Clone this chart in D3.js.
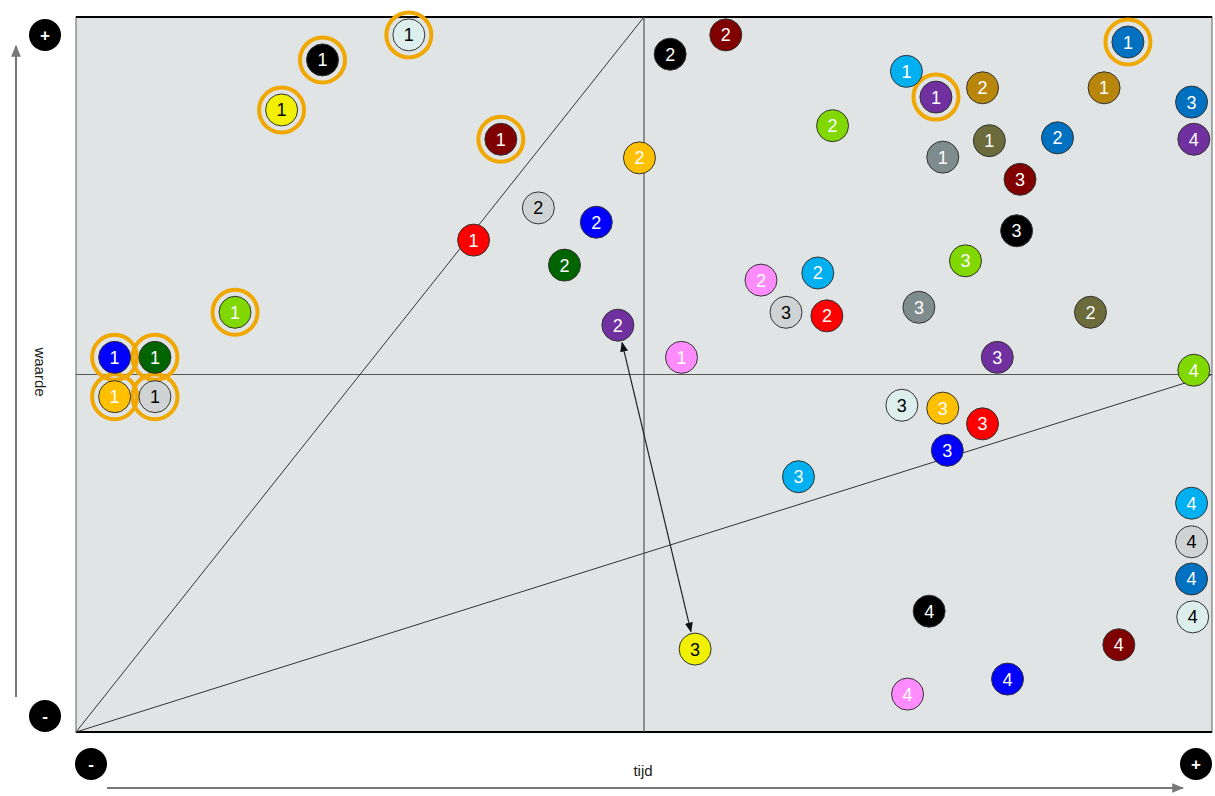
<!DOCTYPE html>
<html>
<head>
<meta charset="utf-8">
<script src="https://cdn.jsdelivr.net/npm/d3@7"></script>
<style>
  body { margin: 0; background: #fff; }
  svg { display: block; font-family: Arial, "Liberation Sans", sans-serif; }
</style>
</head>
<body>
<svg id="chart" width="1215" height="796"></svg>
<script>
// data: one entry per bubble (x = tijd, y = waarde, both 0..100)
const xs = [3.4, 6.95, 3.4, 6.95, 14.0, 18.1, 21.7, 29.3, 37.4, 35.0,
            40.7, 45.8, 43.0, 47.7, 49.6, 52.3, 57.2, 53.3, 73.1, 75.7,
            79.8, 66.6, 76.3, 80.4, 86.4, 92.6, 90.5, 98.2, 98.4, 83.1,
            82.8, 78.3, 60.3, 65.3, 62.5, 66.1, 74.2, 89.3, 81.1, 98.4,
            72.7, 76.3, 79.8, 76.7, 63.6, 98.2, 98.2, 98.2, 98.3, 91.8,
            75.1, 54.5, 82.0, 73.2];
const ys = [52.4, 52.4, 46.9, 46.9, 58.7, 87.0, 94.0, 97.5, 82.9, 68.8,
            73.3, 71.3, 65.3, 56.9, 80.3, 94.8, 97.5, 52.4, 92.4, 88.8,
            90.1, 84.8, 80.4, 82.7, 83.1, 96.5, 90.1, 88.1, 82.9, 77.3,
            70.1, 65.9, 63.2, 64.2, 58.7, 58.2, 59.4, 58.7, 52.4, 50.6,
            45.7, 45.3, 43.1, 39.4, 35.7, 32.0, 26.6, 21.4, 16.1, 12.2,
            16.9, 11.6, 7.4, 5.3];
const labels = ["1","1","1","1","1","1","1","1","1","1",
                "2","2","2","2","2","2","2","1","1","1",
                "2","2","1","1","2","1","1","3","4","3",
                "3","3","2","2","3","2","3","2","3","4",
                "3","3","3","3","3","4","4","4","4","4",
                "4","3","4","4"];
const series = ["blauw","donkergroen","oranje","zilver","limoen","geel","zwart","mint","bordeaux","rood",
                "zilver","blauw","donkergroen","paars","oranje","zwart","bordeaux","roze","hemelsblauw","paars",
                "oker","limoen","grijs","olijf","staalblauw","staalblauw","oker","staalblauw","paars","bordeaux",
                "zwart","limoen","roze","hemelsblauw","zilver","rood","grijs","olijf","paars","limoen",
                "mint","oranje","rood","blauw","hemelsblauw","hemelsblauw","zilver","staalblauw","mint","bordeaux",
                "zwart","geel","blauw","roze"];
// bubbles with the orange ring (index into the arrays above)
const ringed = [0, 1, 2, 3, 4, 5, 6, 7, 8, 19, 25];
// double arrow between two bubbles
const arrowFrom = 13, arrowTo = 51;

const seriesNames = ["blauw","donkergroen","oranje","zilver","limoen","geel","zwart","mint","bordeaux","rood",
                     "paars","roze","hemelsblauw","oker","grijs","olijf","staalblauw"];
const seriesColors = ["#0000ff","#006400","#ffc000","#d0d3d4","#80d800","#f0f000","#000000","#dcefec","#800000","#ff0000",
                      "#7030a0","#ff8cff","#00b0f0","#b8860b","#7f8c8d","#6b6b3b","#0070c0"];
const darkText = ["zilver","geel","mint"];

const svg = d3.select("#chart");
const plotLeft = 76, plotRight = 1212, plotTop = 17, plotBottom = 732;

const x = d3.scaleLinear().domain([0, 100]).range([plotLeft, plotRight]);
const y = d3.scaleLinear().domain([0, 100]).range([plotBottom, plotTop]);
const color = d3.scaleOrdinal().domain(seriesNames).range(seriesColors);

const defs = svg.append("defs");
defs.append("marker").attr("id", "ah")
    .attr("viewBox", "0 0 10 10").attr("refX", 9).attr("refY", 5)
    .attr("markerWidth", 10).attr("markerHeight", 10).attr("orient", "auto-start-reverse")
    .attr("markerUnits", "userSpaceOnUse")
    .append("path").attr("d", "M0,1 L10,5 L0,9 Z").attr("fill", "#111");
defs.append("marker").attr("id", "axh")
    .attr("viewBox", "0 0 10 10").attr("refX", 9).attr("refY", 5)
    .attr("markerWidth", 12).attr("markerHeight", 12).attr("orient", "auto")
    .attr("markerUnits", "userSpaceOnUse")
    .append("path").attr("d", "M0,1 L10,5 L0,9 Z").attr("fill", "#777");

// plot background
svg.append("rect")
    .attr("x", x(0)).attr("y", y(100))
    .attr("width", x(100) - x(0)).attr("height", y(0) - y(100))
    .attr("fill", "#e1e4e5").attr("stroke", "#777").attr("stroke-width", 1.2);
svg.append("line").attr("x1", x(0)).attr("x2", x(100)).attr("y1", y(100)).attr("y2", y(100))
    .attr("stroke", "#000").attr("stroke-width", 2);
svg.append("line").attr("x1", x(0)).attr("x2", x(100)).attr("y1", y(0)).attr("y2", y(0))
    .attr("stroke", "#000").attr("stroke-width", 2);

// quadrant lines
svg.append("line").attr("x1", x(50)).attr("x2", x(50)).attr("y1", y(0)).attr("y2", y(100))
    .attr("stroke", "#555").attr("stroke-width", 1.2);
svg.append("line").attr("x1", x(0)).attr("x2", x(100)).attr("y1", y(50)).attr("y2", y(50))
    .attr("stroke", "#555").attr("stroke-width", 1.2);
// diagonals
svg.append("line").attr("x1", x(0)).attr("y1", y(0)).attr("x2", x(50)).attr("y2", y(100))
    .attr("stroke", "#333").attr("stroke-width", 1);
svg.append("line").attr("x1", x(0)).attr("y1", y(0)).attr("x2", x(100)).attr("y2", y(50))
    .attr("stroke", "#333").attr("stroke-width", 1);

// axis arrows
svg.append("line").attr("x1", 16).attr("y1", 697).attr("x2", 16).attr("y2", 46)
    .attr("stroke", "#777").attr("stroke-width", 2).attr("marker-end", "url(#axh)");
svg.append("line").attr("x1", 107).attr("y1", 788).attr("x2", 1183).attr("y2", 788)
    .attr("stroke", "#777").attr("stroke-width", 2).attr("marker-end", "url(#axh)");

svg.append("text").attr("transform", "translate(35,372) rotate(90)")
    .attr("text-anchor", "middle").attr("font-size", 15).attr("fill", "#222").text("waarde");
svg.append("text").attr("x", 643).attr("y", 776)
    .attr("text-anchor", "middle").attr("font-size", 15).attr("fill", "#222").text("tijd");

// +/- badges
const badges = [{cx: 45, cy: 35, t: "+"}, {cx: 45, cy: 716, t: "-"},
                {cx: 91, cy: 764, t: "-"}, {cx: 1196, cy: 764, t: "+"}];
const bg = svg.append("g").selectAll("g").data(badges).join("g")
    .attr("transform", d => `translate(${d.cx},${d.cy})`);
bg.append("circle").attr("r", 16).attr("fill", "#000");
bg.append("text").attr("text-anchor", "middle").attr("dy", "0.36em")
    .attr("font-size", 17).attr("font-weight", "bold").attr("fill", "#fff").text(d => d.t);

// arrow between two bubbles
{
  const x1 = x(xs[arrowFrom]), y1 = y(ys[arrowFrom]);
  const x2 = x(xs[arrowTo]), y2 = y(ys[arrowTo]);
  const len = Math.hypot(x2 - x1, y2 - y1);
  const ux = (x2 - x1) / len, uy = (y2 - y1) / len;
  const off = 18;
  svg.append("line")
      .attr("x1", x1 + ux * off).attr("y1", y1 + uy * off)
      .attr("x2", x2 - ux * off).attr("y2", y2 - uy * off)
      .attr("stroke", "#222").attr("stroke-width", 1.2)
      .attr("marker-start", "url(#ah)").attr("marker-end", "url(#ah)");
}

const pts = xs.map((v, i) => ({x: v, y: ys[i], label: labels[i], s: series[i], ring: ringed.includes(i)}));

svg.append("g").selectAll("circle").data(pts.filter(d => d.ring)).join("circle")
    .attr("cx", d => x(d.x)).attr("cy", d => y(d.y)).attr("r", 22.5)
    .attr("fill", "none").attr("stroke", "#f0a800").attr("stroke-width", 4);

const node = svg.append("g").selectAll("g").data(pts).join("g")
    .attr("transform", d => `translate(${x(d.x)},${y(d.y)})`);
node.append("circle").attr("r", 16)
    .attr("fill", d => color(d.s)).attr("stroke", "#333").attr("stroke-width", 1);
node.append("text").attr("text-anchor", "middle").attr("dy", "0.36em")
    .attr("font-size", 18)
    .attr("fill", d => darkText.includes(d.s) ? "#000" : "#fff")
    .text(d => d.label);
</script>
</body>
</html>
